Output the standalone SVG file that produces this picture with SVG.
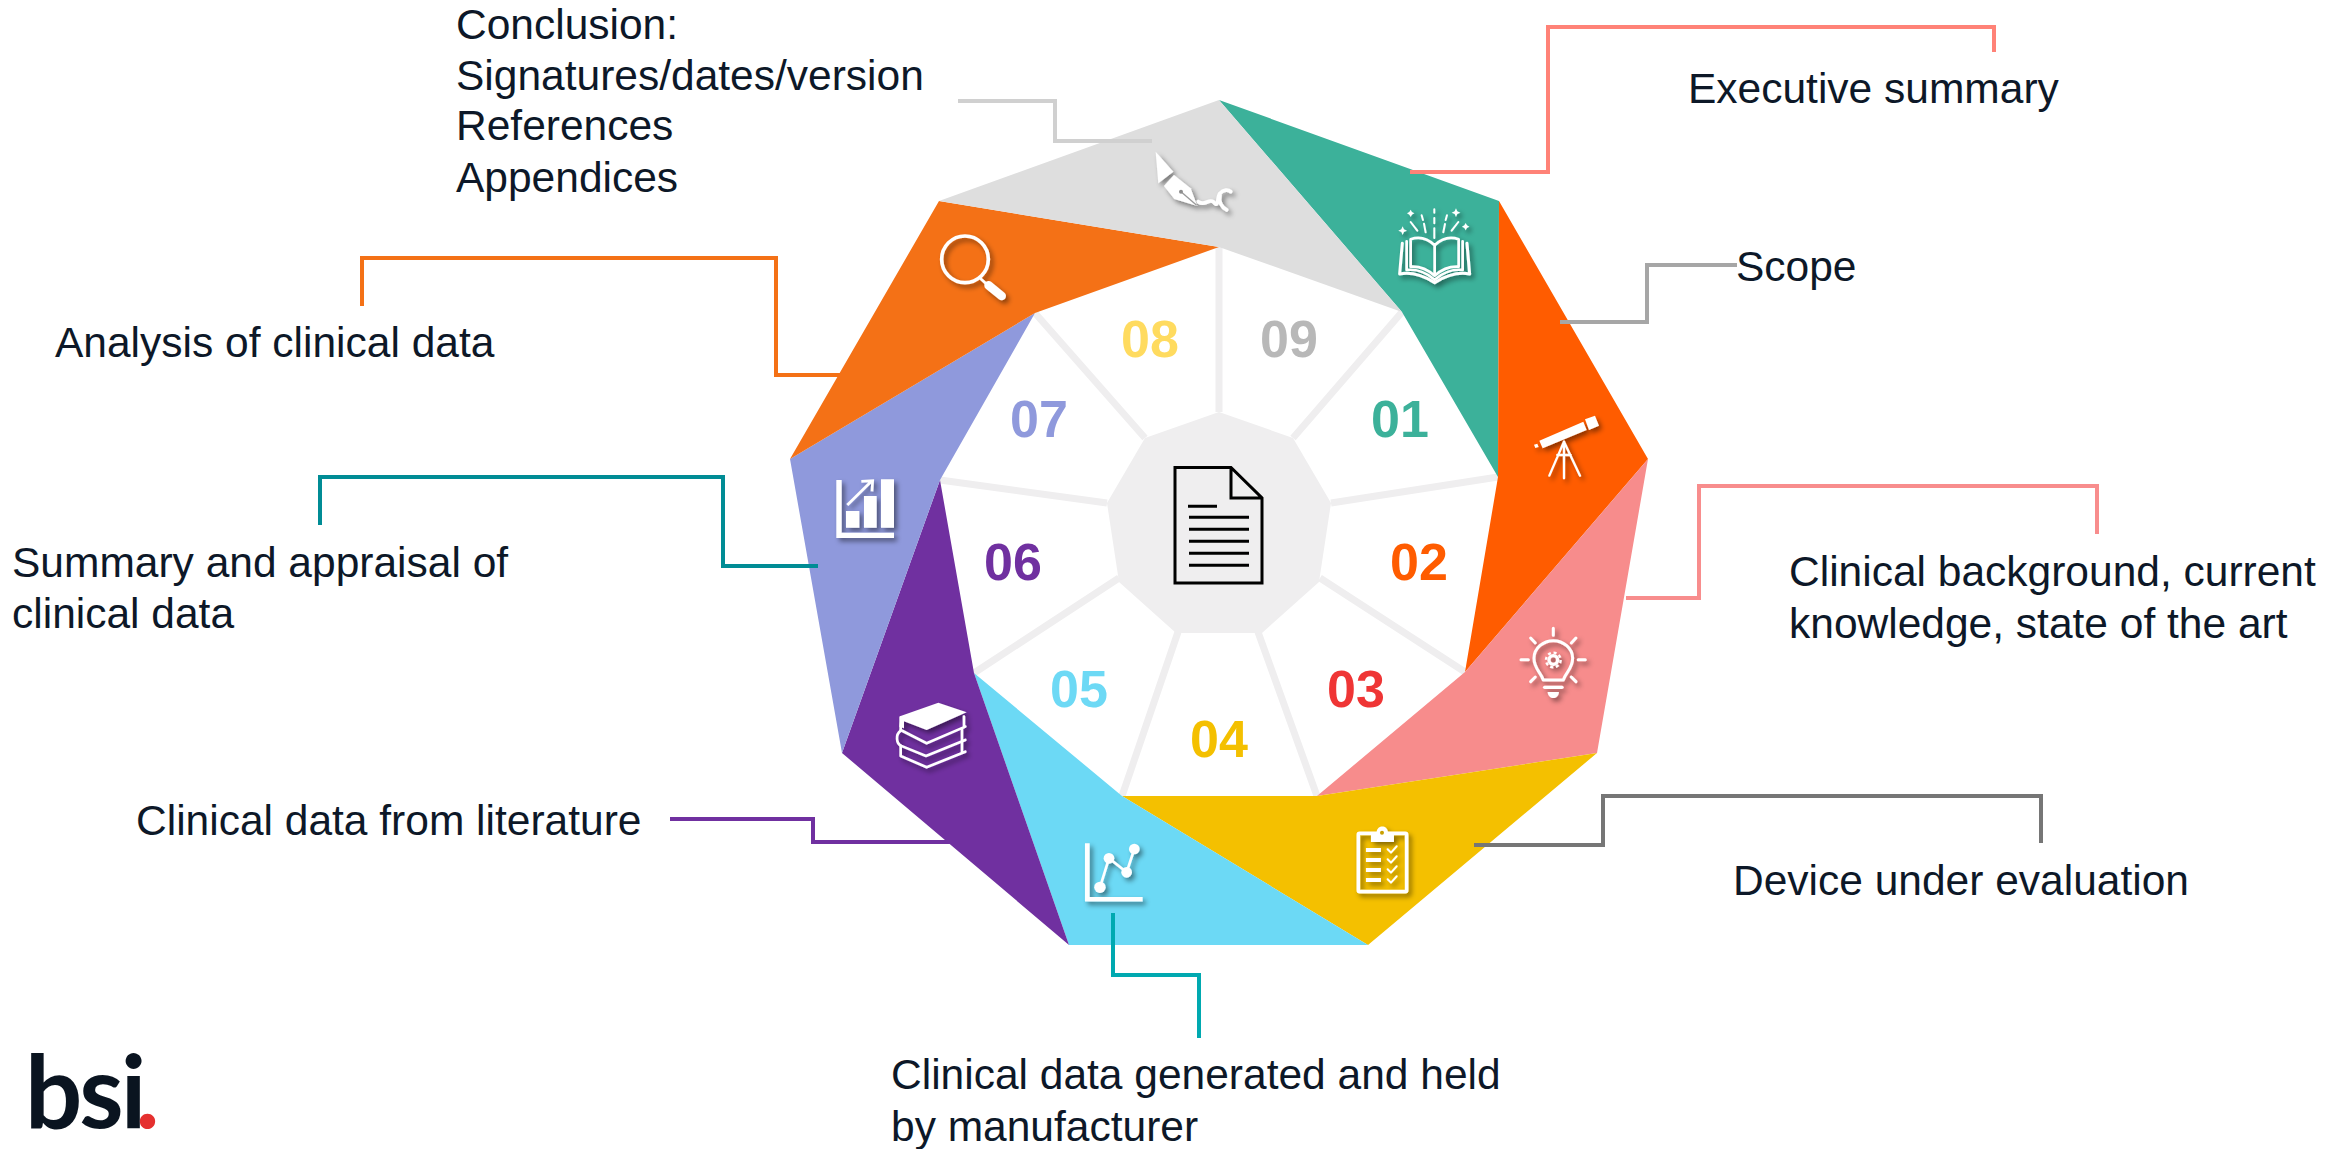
<svg xmlns="http://www.w3.org/2000/svg" width="2351" height="1149" viewBox="0 0 2351 1149">
<defs>
<filter id="sh" x="-30%" y="-30%" width="170%" height="170%"><feDropShadow dx="9" dy="10" stdDeviation="8" flood-color="#000" flood-opacity="0.45"/></filter>
</defs>
<style>
text{font-family:"Liberation Sans",Arial,sans-serif}
.lbl{font-size:42.5px;fill:#0d1828}
.num{font-size:52px;font-weight:700;text-anchor:middle}
.cn{fill:none;stroke-width:4}
.sp{stroke:#efeeef;stroke-width:7;fill:none}
.w{fill:none;stroke:#fff;stroke-linecap:round;stroke-linejoin:round}
.wf{fill:#fff}
.doc{fill:none;stroke:#000;stroke-width:3}
</style>
<rect width="2351" height="1149" fill="#fff"/>
<g id="hub">
<g id="spokes">
<path class="sp" d="M1219 412V247M1293 438L1402 312M1331 503L1498 477M1320 578L1465 672M1258 632L1317 796M1178 632L1122 796M1119 578L974 673M1107 503L940 480M1145 438L1035 313"/>
</g>
<polygon points="1219,412 1293,438 1331,503 1319,582 1262,633 1176,633 1119,582 1107,503 1145,438" fill="#efeeef"/>
<g id="document">
<path class="doc" d="M1175 467.500H1231L1262 498V583H1175ZM1231 467.500V498H1262"/>
<path class="doc" d="M1188 506.300H1217M1189 517.300H1249M1189 529.300H1249M1189 541.300H1249M1189 553.300H1249M1189 565.300H1249"/>
</g>
</g>

<g id="node-01">
<polygon points="1219,100 1499,201 1498,477 1402,312" fill="#3cb19a"/>
<text class="num" x="1400" y="437" fill="#3cb19a">01</text>
<g transform="translate(1180 80) scale(.3333)" filter="url(#sh)">
<path class="w" stroke-width="6" d="M763 388V398M763 414V430M763 445V474M725 406L729 420M732 431L737 457M801 406L797 420M795 432L790 457M692 426L712 452M835 426L815 452"/>
<path class="wf" d="M692 389L696 396L703 400L696 404L692 411L688 404L681 400L688 396ZM828 385L832 394L841 398L832 402L828 411L824 402L815 398L824 394ZM668 439L672 448L681 452L672 456L668 465L664 456L655 452L664 448ZM857 429L861 436L868 440L861 444L857 451L853 444L846 440L853 436Z"/>
<path class="w" stroke-width="8" d="M764 496C742 475 715 470 692 478V560C720 558 745 570 764 587C783 570 808 558 836 560V478C813 470 786 475 764 496V587"/>
<path class="w" stroke-width="8" d="M680 484V570C710 566 742 580 764 599C786 580 818 566 848 570V484"/>
<path class="w" stroke-width="9" d="M667 490L659 582C700 574 735 590 764 608C793 590 828 574 869 582L861 490"/>
</g>
</g>
<g id="node-02">
<polygon points="1499,201 1648,459 1465,672 1498,477" fill="#ff5c00"/>
<text class="num" x="1419" y="580" fill="#ff5c00">02</text>
<g transform="translate(1520 400) scale(.3333)" filter="url(#sh)">
<path class="wf" d="M58 122L190 65L200 90L68 145ZM195 58L225 47L237 77L207 90ZM42 134L52 131L56 141L46 144Z"/>
<path class="w" stroke-width="7" d="M132 125L88 227M132 125L180 227M132 125V235M112 165H152"/>
</g>
</g>
<g id="node-03">
<polygon points="1648,459 1597,753 1317,796 1465,672" fill="#f78c8c"/>
<text class="num" x="1356" y="707" fill="#ef3535">03</text>
<g transform="translate(1180 480) scale(.3333)" filter="url(#sh)">
<path class="w" stroke-width="9" d="M1120 445V466M1052 474L1066 489M1188 474L1174 489M1023 539H1045M1195 539H1216M1052 605L1066 591M1188 605L1174 591"/>
<path class="w" stroke-width="9" d="M1090 600C1082 576 1062 566 1062 535C1062 505 1090 482 1120 482C1150 482 1178 505 1178 535C1178 566 1158 576 1150 600Z"/>
<path class="w" stroke-width="10" d="M1094 622H1146"/>
<path class="wf" d="M1103 636H1137C1135 660 1105 660 1103 636Z"/>
<circle class="w" cx="1120" cy="540" r="13" stroke-width="10"/>
<circle class="w" cx="1120" cy="540" r="22" stroke-width="7" stroke-dasharray="9 8.300" style="stroke-linecap:butt"/>
</g>
</g>
<g id="node-04">
<polygon points="1597,753 1368,945 1122,796 1317,796" fill="#f4c000"/>
<text class="num" x="1219" y="757" fill="#f4c000">04</text>
<g transform="translate(1180 480) scale(.3333)" filter="url(#sh)">
<rect class="w" x="535" y="1060" width="145" height="175" rx="4" stroke-width="11"/>
<path class="wf" d="M573 1056H590C592 1034 622 1034 624 1056H642V1086H573Z"/>
<circle cx="606" cy="1058" r="6" fill="#c9a000"/>
<path class="w" stroke-width="12" style="stroke-linecap:butt" d="M558 1110H603M558 1140H603M558 1170H603M558 1200H603"/>
<path class="w" stroke-width="6" d="M623 1108L633 1118L650 1099M623 1138L633 1148L650 1129M623 1168L633 1178L650 1159M623 1198L633 1208L650 1189"/>
</g>
</g>
<g id="node-05">
<polygon points="1368,945 1069,945 974,673 1122,796" fill="#6cd9f5"/>
<text class="num" x="1079" y="707" fill="#6dd9f5">05</text>
<g transform="translate(780 480) scale(.3333)" filter="url(#sh)">
<path class="w" stroke-width="14" style="stroke-linecap:butt;stroke-linejoin:miter" d="M922 1090V1258H1088"/>
<path class="w" stroke-width="8" d="M960 1222L987 1135L1040 1177L1063 1107"/>
<g class="wf"><circle cx="960" cy="1222" r="17"/><circle cx="987" cy="1135" r="16"/><circle cx="1040" cy="1177" r="16"/><circle cx="1063" cy="1107" r="16"/></g>
</g>
</g>
<g id="node-06">
<polygon points="1069,945 842,753 940,480 974,673" fill="#7030a0"/>
<text class="num" x="1013" y="580" fill="#7030a0">06</text>
<g transform="translate(780 480) scale(.3333)" filter="url(#sh)">
<path class="wf" d="M362 708L475 668L560 697L440 750L372 724L372 745L358 740Z"/>
<path class="w" stroke-width="8" d="M362 712V750L440 790L556 740M552 710V742"/>
<path class="w" stroke-width="8" d="M362 752C345 765 350 790 362 797L438 828L556 780M546 745V782"/>
<path class="w" stroke-width="8" d="M362 797V828L440 862L556 815M546 785V818"/>
</g>
</g>
<g id="node-07">
<polygon points="842,753 790,459 1035,313 940,480" fill="#8f99dc"/>
<text class="num" x="1039" y="437" fill="#8f99dc">07</text>
<g transform="translate(820 460) scale(.3333)" filter="url(#sh)">
<path class="w" stroke-width="16" style="stroke-linecap:butt;stroke-linejoin:miter" d="M57 60V226H222"/>
<path class="wf" d="M78 153H118V203H78ZM132 108H170V203H132ZM183 58H222V203H183Z"/>
<path class="w" stroke-width="8" style="stroke-linecap:butt;stroke-linejoin:miter" d="M82 135L152 66M124 64L158 62L156 94"/>
</g>
</g>
<g id="node-08">
<polygon points="790,459 939,201 1219,247 1035,313" fill="#f47116"/>
<text class="num" x="1150" y="357" fill="#ffdb5f">08</text>
<g transform="translate(780 80) scale(.3333)" filter="url(#sh)">
<circle class="w" cx="555" cy="538" r="70" stroke-width="11"/>
<path class="w" stroke-width="8" d="M603 597L622 614"/>
<path class="w" stroke-width="26" d="M626 616L665 648"/>
</g>
</g>
<g id="node-09">
<polygon points="939,201 1219,100 1402,312 1219,247" fill="#dedede"/>
<text class="num" x="1289" y="357" fill="#b8b8b8">09</text>
<g transform="translate(1140 130) scale(.3333)" filter="url(#sh)">
<path class="wf" d="M47 65L100 125L55 160Z"/>
<path class="wf" d="M102 135L72 168L103 207L172 228L152 175Z"/>
<path d="M123 185L170 226" stroke="#9a9a9a" stroke-width="4" fill="none"/>
<circle cx="123" cy="185" r="6" fill="#8d8d8d"/>
<path class="w" stroke-width="11" d="M175 215C195 230 205 205 220 215C238 238 230 200 240 190C250 178 265 178 272 185M240 195C235 215 245 232 260 240"/>
</g>
</g>

<g id="connectors">
<path class="cn" stroke="#ff8277" d="M1410 172H1548V27H1994V52"/>
<path class="cn" stroke="#a6a6a6" d="M1560 322H1647V265H1737"/>
<path class="cn" stroke="#f88d8d" d="M1626 598H1699V486H2097V534"/>
<path class="cn" stroke="#767676" d="M1474 845H1603V796H2041V843"/>
<path class="cn" stroke="#00a9b0" d="M1113 913V975H1199V1038"/>
<path class="cn" stroke="#7030a0" d="M670 819H813V842H950"/>
<path class="cn" stroke="#008c95" d="M818 566H723V477H320V525"/>
<path class="cn" stroke="#f47116" d="M362 306V258H776V375H842"/>
<path class="cn" stroke="#d0d0d0" d="M958 101H1055V141H1152"/>
</g>

<g id="labels">
<text class="lbl" x="456" y="39">Conclusion:</text>
<text class="lbl" x="456" y="90">Signatures/dates/version</text>
<text class="lbl" x="456" y="140">References</text>
<text class="lbl" x="456" y="192">Appendices</text>
<text class="lbl" x="1688" y="103">Executive summary</text>
<text class="lbl" x="1736" y="281">Scope</text>
<text class="lbl" x="1789" y="586">Clinical background, current</text>
<text class="lbl" x="1789" y="638">knowledge, state of the art</text>
<text class="lbl" x="1733" y="895">Device under evaluation</text>
<text class="lbl" x="891" y="1089">Clinical data generated and held</text>
<text class="lbl" x="891" y="1141">by manufacturer</text>
<text class="lbl" x="136" y="835">Clinical data from literature</text>
<text class="lbl" x="12" y="577">Summary and appraisal of</text>
<text class="lbl" x="12" y="628">clinical data</text>
<text class="lbl" x="55" y="357">Analysis of clinical data</text>
</g>
<g id="logo">
<text x="25" y="1128" style="font-family:Lato,'Liberation Sans',sans-serif;font-weight:700;font-size:101px;letter-spacing:-3px" fill="#0a1420">bs<tspan style="letter-spacing:-11px">i</tspan><tspan fill="#e5302f">.</tspan></text>
</g>
</svg>
